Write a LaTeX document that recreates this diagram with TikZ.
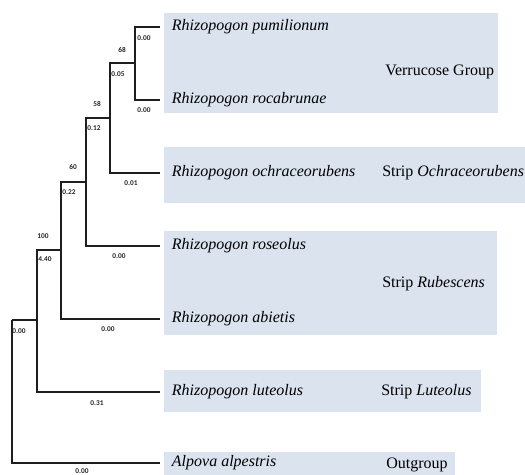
\documentclass[tikz,border=0pt]{standalone}
\usepackage{fontspec}
\setmainfont{Liberation Serif}
\newfontfamily\branchfont{Carlito}
\usepackage{xcolor}
\usepackage{tikz}
\usetikzlibrary{calc}

\definecolor{cladefill}{RGB}{219,227,238}
\definecolor{treeline}{RGB}{30,30,30}

\tikzset{
  taxon/.style={anchor=west,inner sep=2pt,font=\itshape\fontsize{12}{14}\selectfont},
  group/.style={anchor=west,inner sep=0pt,font=\fontsize{12}{14}\selectfont},
  blen/.style={inner sep=0pt,text=black!85,font=\branchfont\bfseries\fontsize{5.5}{6}\selectfont},
  branch/.style={line width=0.9pt,draw=treeline,shorten >=6.75pt},
}

\begin{document}
\begin{tikzpicture}[x=0.75pt,y=-0.75pt]
  % Cladogram of Rhizopogon with shaded clade strips.
  \useasboundingbox (0,0) rectangle (525,475);

  \fill[cladefill] (164,13)  rectangle (498,113);
  \fill[cladefill] (164,147) rectangle (527,203);
  \fill[cladefill] (164,231) rectangle (497,335);
  \fill[cladefill] (164,370) rectangle (481,412);
  \fill[cladefill] (164,452) rectangle (455,477);

  \coordinate (root) at (12,320);
  \coordinate (n2)   at (37,320);
  \coordinate (n3)   at (61,250);
  \coordinate (n4)   at (86,182);
  \coordinate (n5)   at (110,118);
  \coordinate (n6)   at (135,63);

  \node[taxon] (pum) at (169,27)  {Rhizopogon pumilionum};
  \node[taxon] (roc) at (169,100) {Rhizopogon rocabrunae};
  \node[taxon] (och) at (169,173) {Rhizopogon ochraceorubens};
  \node[taxon] (ros) at (169,246) {Rhizopogon roseolus};
  \node[taxon] (abi) at (169,319) {Rhizopogon abietis};
  \node[taxon] (lut) at (169,392) {Rhizopogon luteolus};
  \node[taxon] (alp) at (169,463) {Alpova alpestris};

  \draw[line width=0.9pt,treeline] (root) |- (n2);
  \draw[line width=0.9pt,treeline] (n2) |- (n3);
  \draw[line width=0.9pt,treeline] (n3) |- (n4);
  \draw[line width=0.9pt,treeline] (n4) |- (n5);
  \draw[line width=0.9pt,treeline] (n5) |- (n6);

  \draw[branch] (n6) |- (pum);
  \draw[branch] (n6) |- (roc);
  \draw[branch] (n5) |- (och);
  \draw[branch] (n4) |- (ros);
  \draw[branch] (n3) |- (abi);
  \draw[branch] (n2) |- (lut);
  \draw[branch] (root) |- (alp);

  \node[blen] (b1)  at (144,38)  {0.00};
  \node[blen] (b2)  at (144,110) {0.00};
  \node[blen] (s68) at (122,50)  {68};
  \node[blen] (b3)  at (118,74)  {0.05};
  \node[blen] (s58) at (97,104)  {58};
  \node[blen] (b4)  at (94,128)  {0.12};
  \node[blen] (b5)  at (131,183) {0.01};
  \node[blen] (s60) at (73,167)  {60};
  \node[blen] (b6)  at (69,192)  {0.22};
  \node[blen] (b7)  at (119,256) {0.00};
  \node[blen] (s100) at (43,236) {100};
  \node[blen] (b8)  at (45,259)  {4.40};
  \node[blen] (b9)  at (108,329) {0.00};
  \node[blen] (b10) at (19,331)  {0.00};
  \node[blen] (b11) at (97,403)  {0.31};
  \node[blen] (b12) at (82,471)  {0.00};

  \node[group] (verr) at (385,72)  {Verrucose Group};
  \node[group] (ochr) at (382,173) {Strip \textit{Ochraceorubens}};
  \node[group] (rube) at (382,284) {Strip \textit{Rubescens}};
  \node[group] (lute) at (381,392) {Strip \textit{Luteolus}};
  \node[group] (outg) at (386,465) {Outgroup};
\end{tikzpicture}
\end{document}
